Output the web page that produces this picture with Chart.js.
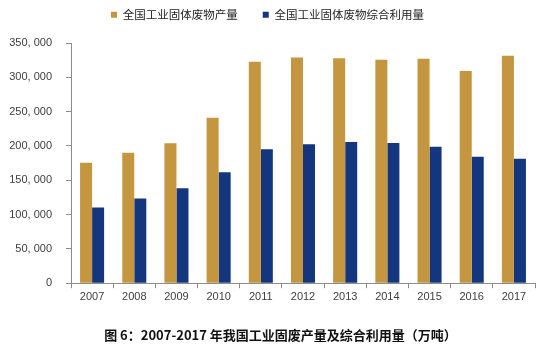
<!DOCTYPE html>
<html>
<head>
<meta charset="utf-8">
<script src="https://cdn.jsdelivr.net/npm/chart.js@4/dist/chart.umd.min.js"></script>
<style>
html,body{margin:0;padding:0;background:#fff;}
#wrap{position:relative;width:546px;height:357px;}
</style>
</head>
<body>
<div id="wrap"><canvas id="c" width="546" height="357"></canvas></div>
<script>
const years = ["2007","2008","2009","2010","2011","2012","2013","2014","2015","2016","2017"];
const production = [175632,190127,203943,240944,322772,329044,327702,325620,327079,309210,331592];
const utilization = [110311,123482,138186,161772,195215,202462,205916,204330,198807,184096,181187];
const seriesNames = ["全国工业固体废物产量","全国工业固体废物综合利用量"];
const caption = "图 6：2007-2017 年我国工业固废产量及综合利用量（万吨）";
const yTicks = [0,50000,100000,150000,200000,250000,300000,350000];

const gold = "#C3963F";
const navy = "#14367F";
const axisColor = "#8c8c8c";
const textColor = "#404040";

function fmt(v){
  if (v === 0) return "0";
  const th = Math.floor(v/1000), rest = v % 1000;
  return th + ", " + String(rest).padStart(3,"0");
}

const LEGEND_PAD = 25;
const layoutTweaks = {
  id: "layoutTweaks",
  afterInit(chart) {
    const lg = chart.legend;
    if (lg) {
      const origFit = lg.fit.bind(lg);
      lg.fit = function(){ origFit(); this.height = 43; };
    }
  },
  afterLayout(chart) {
    const lg = chart.legend;
    if (lg) { lg.top -= (LEGEND_PAD + 6 - 15); lg.bottom -= (LEGEND_PAD + 6 - 15); }
    const tb = chart.titleBlock;
    if (tb) { tb.left += 13; tb.right += 13; }
  }
};

new Chart(document.getElementById("c"), {
  type: "bar",
  data: {
    labels: years,
    datasets: [
      {label: seriesNames[0], data: production, backgroundColor: gold, barPercentage: 1.0, categoryPercentage: 0.57},
      {label: seriesNames[1], data: utilization, backgroundColor: navy, barPercentage: 1.0, categoryPercentage: 0.57}
    ]
  },
  plugins: [layoutTweaks],
  options: {
    responsive: false,
    animation: false,
    layout: {padding: {left: 0, right: 11, top: 0, bottom: 14}},
    plugins: {
      legend: {
        position: "top",
        labels: {
          boxWidth: 6, boxHeight: 6, padding: LEGEND_PAD,
          color: "#222",
          font: {family: "'Noto Sans CJK SC', sans-serif", size: 11.5}
        }
      },
      title: {
        display: true,
        position: "bottom",
        text: caption,
        color: "#111",
        padding: {top: 22, bottom: 0},
        font: {family: "'Noto Sans CJK SC', serif", size: 13, weight: "bold"}
      },
      tooltip: {enabled: false}
    },
    scales: {
      x: {
        grid: {display: true, drawOnChartArea: false, offset: true, color: axisColor, tickLength: 5},
        border: {color: axisColor},
        ticks: {color: textColor, font: {family: "'Liberation Sans', Arial, sans-serif", size: 11}, padding: 2, maxRotation: 0}
      },
      y: {
        min: 0, max: 350000,
        afterBuildTicks: (axis) => { axis.ticks = yTicks.map(v => ({value: v})); },
        afterFit: (axis) => { axis.width = 71; },
        grid: {display: true, drawOnChartArea: false, color: axisColor, tickLength: 5},
        border: {color: axisColor},
        ticks: {color: textColor, font: {family: "'Liberation Sans', Arial, sans-serif", size: 11}, padding: 14, callback: (v) => fmt(v)}
      }
    }
  }
});
</script>
</body>
</html>
